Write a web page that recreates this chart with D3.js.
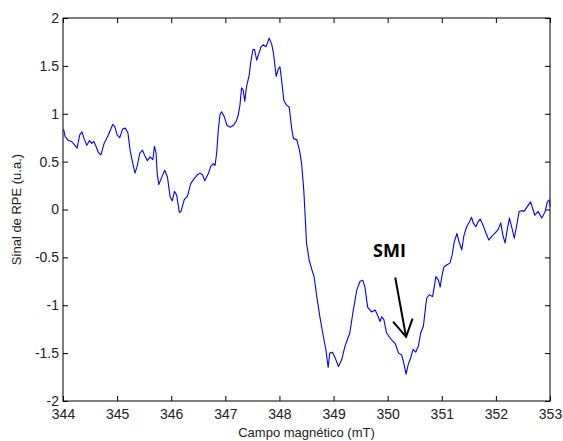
<!DOCTYPE html>
<html>
<head>
<meta charset="utf-8">
<script src="https://cdn.jsdelivr.net/npm/d3@7"></script>
<style>
  body { margin: 0; background: #fff; }
  svg { display: block; font-family: "Liberation Sans", Arial, sans-serif; }
  .axis text { font-size: 14px; fill: #222; }
  .axis .domain { display: none; }
  .axis line { stroke: #000; }
</style>
</head>
<body>
<svg id="chart" width="563" height="441"></svg>
<script>
'use strict';

// campo magnetico (mT) and sinal de RPE (u.a.)
var field = [
  344.01, 344.04, 344.10, 344.16, 344.22, 344.26, 344.31, 344.35, 344.39, 344.44,
  344.49, 344.53, 344.57, 344.61, 344.65, 344.70, 344.76, 344.84, 344.92, 344.96,
  345.00, 345.05, 345.10, 345.15, 345.20, 345.24, 345.29, 345.33, 345.37, 345.42,
  345.47, 345.52, 345.56, 345.61, 345.66, 345.69, 345.72, 345.74, 345.77, 345.82,
  345.88, 345.93, 345.98, 346.02, 346.06, 346.10, 346.15, 346.18, 346.24, 346.30,
  346.36, 346.42, 346.48, 346.53, 346.58, 346.62, 346.69, 346.73, 346.78, 346.81,
  346.84, 346.87, 346.90, 346.93, 346.98, 347.03, 347.09, 347.15, 347.20, 347.24,
  347.27, 347.30, 347.33, 347.36, 347.39, 347.44, 347.47, 347.51, 347.54, 347.58,
  347.62, 347.66, 347.70, 347.75, 347.78, 347.81, 347.86, 347.89, 347.94, 347.98,
  348.01, 348.04, 348.08, 348.13, 348.18, 348.23, 348.26, 348.32, 348.37, 348.41,
  348.45, 348.47, 348.50, 348.55, 348.60, 348.64, 348.69, 348.75, 348.80, 348.86,
  348.90, 348.93, 348.98, 349.03, 349.09, 349.15, 349.21, 349.30, 349.36, 349.43,
  349.49, 349.54, 349.58, 349.63, 349.70, 349.77, 349.81, 349.86, 349.89, 349.93,
  349.98, 350.07, 350.14, 350.20, 350.26, 350.30, 350.34, 350.38, 350.43, 350.47,
  350.52, 350.57, 350.61, 350.66, 350.69, 350.72, 350.77, 350.83, 350.86, 350.89,
  350.94, 350.97, 351.00, 351.04, 351.09, 351.15, 351.19, 351.23, 351.28, 351.32,
  351.37, 351.41, 351.46, 351.51, 351.55, 351.58, 351.63, 351.67, 351.71, 351.76,
  351.82, 351.87, 351.92, 351.98, 352.04, 352.09, 352.13, 352.17, 352.21, 352.25,
  352.29, 352.34, 352.38, 352.43, 352.48, 352.52, 352.58, 352.64, 352.68, 352.72,
  352.78, 352.85, 352.91, 352.95, 352.99, 353.00
];
var signal = [
  0.84, 0.76, 0.72, 0.71, 0.67, 0.64, 0.78, 0.81, 0.74, 0.67,
  0.72, 0.69, 0.71, 0.66, 0.60, 0.57, 0.69, 0.78, 0.89, 0.86,
  0.78, 0.75, 0.84, 0.85, 0.80, 0.62, 0.48, 0.38, 0.45, 0.59,
  0.62, 0.55, 0.51, 0.55, 0.52, 0.66, 0.59, 0.38, 0.26, 0.33,
  0.41, 0.34, 0.13, 0.09, 0.19, 0.15, -0.03, -0.02, 0.10, 0.14,
  0.27, 0.32, 0.36, 0.38, 0.36, 0.30, 0.38, 0.45, 0.48, 0.46,
  0.59, 0.83, 0.99, 1.02, 0.97, 0.88, 0.86, 0.88, 0.92, 0.99,
  1.09, 1.27, 1.25, 1.13, 1.28, 1.40, 1.54, 1.67, 1.67, 1.56,
  1.63, 1.70, 1.72, 1.70, 1.74, 1.79, 1.72, 1.63, 1.39, 1.47,
  1.49, 1.35, 1.14, 1.09, 1.07, 0.83, 0.74, 0.73, 0.62, 0.48,
  0.20, -0.01, -0.35, -0.53, -0.63, -0.70, -0.91, -1.13, -1.29, -1.47,
  -1.65, -1.50, -1.49, -1.55, -1.64, -1.57, -1.43, -1.29, -1.07, -0.84,
  -0.75, -0.74, -0.81, -1.02, -1.07, -1.05, -1.10, -1.17, -1.12, -1.15,
  -1.29, -1.36, -1.40, -1.50, -1.52, -1.61, -1.72, -1.62, -1.54, -1.46,
  -1.49, -1.42, -1.29, -1.22, -1.07, -0.93, -0.89, -0.91, -0.81, -0.70,
  -0.74, -0.81, -0.70, -0.60, -0.58, -0.56, -0.48, -0.34, -0.25, -0.34,
  -0.42, -0.27, -0.18, -0.13, -0.08, -0.14, -0.18, -0.13, -0.10, -0.16,
  -0.25, -0.32, -0.28, -0.25, -0.21, -0.14, -0.27, -0.35, -0.21, -0.09,
  -0.18, -0.30, -0.18, -0.02, -0.01, -0.02, 0.03, 0.08, 0.01, -0.06,
  -0.02, -0.09, -0.02, 0.08, 0.10, 0.03
];

var xTicks = [344, 345, 346, 347, 348, 349, 350, 351, 352, 353],
    yTicks = [-2, -1.5, -1, -0.5, 0, 0.5, 1, 1.5, 2];

// annotation: "SMI" with an arrow pointing at the dip
var smiLabel = { text: "SMI", x: 349.73, y: -0.50 },
    smiArrow = { from: [350.14, -0.71], to: [350.34, -1.33],
                 wingL: [350.10, -1.17], wingR: [350.46, -1.14] };

var svg = d3.select("#chart"),
    margin = {top: 18, right: 13, bottom: 40, left: 63},
    width  = +svg.attr("width")  - margin.left - margin.right,
    height = +svg.attr("height") - margin.top - margin.bottom;

var x = d3.scaleLinear().domain([344, 353]).range([0, width]),
    y = d3.scaleLinear().domain([-2, 2]).range([height, 0]);

var g = svg.append("g")
    .attr("transform", "translate(" + margin.left + "," + margin.top + ")");

var fmt = function(d) { return String(d); };

g.append("g")
    .attr("class", "axis")
    .attr("transform", "translate(0," + height + ")")
    .call(d3.axisBottom(x).tickValues(xTicks).tickFormat(fmt).tickSizeInner(-5).tickSizeOuter(0).tickPadding(8));

g.append("g")
    .attr("class", "axis")
    .call(d3.axisTop(x).tickValues(xTicks).tickFormat("").tickSizeInner(-5).tickSizeOuter(0));

g.append("g")
    .attr("class", "axis")
    .call(d3.axisLeft(y).tickValues(yTicks).tickFormat(fmt).tickSizeInner(-5).tickSizeOuter(0).tickPadding(4));

g.append("g")
    .attr("class", "axis")
    .attr("transform", "translate(" + width + ",0)")
    .call(d3.axisRight(y).tickValues(yTicks).tickFormat("").tickSizeInner(-5).tickSizeOuter(0));

// box round the plot
g.append("rect")
    .attr("width", width)
    .attr("height", height)
    .attr("fill", "none")
    .attr("stroke", "#000")
    .attr("stroke-width", 1);

var line = d3.line()
    .x(function(d, i) { return x(field[i]); })
    .y(function(d) { return y(d); });

g.append("path")
    .datum(signal)
    .attr("fill", "none")
    .attr("stroke", "#0000ff")
    .attr("stroke-width", 1.1)
    .attr("stroke-linejoin", "round")
    .attr("d", line);

// annotation
g.append("text")
    .attr("x", x(smiLabel.x))
    .attr("y", y(smiLabel.y))
    .style("font-family", "'Open Sans', 'Liberation Sans', sans-serif")
    .style("font-weight", "bold")
    .style("font-size", "18px")
    .style("fill", "#000")
    .text(smiLabel.text);

var pt = function(p) { return [x(p[0]), y(p[1])]; };
g.append("path")
    .attr("fill", "none")
    .attr("stroke", "#000")
    .attr("stroke-width", 2)
    .attr("d", d3.line()([pt(smiArrow.from), pt(smiArrow.to)]) +
               d3.line()([pt(smiArrow.wingL), pt(smiArrow.to), pt(smiArrow.wingR)]));

// axis titles
svg.append("text")
    .attr("x", margin.left + width / 2)
    .attr("y", 437)
    .attr("text-anchor", "middle")
    .style("font-size", "13px")
    .style("fill", "#222")
    .text("Campo magnético (mT)");

svg.append("text")
    .attr("transform", "translate(21," + (margin.top + height / 2) + ") rotate(-90)")
    .attr("text-anchor", "middle")
    .style("font-size", "13px")
    .style("fill", "#222")
    .text("Sinal de RPE (u.a.)");
</script>
</body>
</html>
